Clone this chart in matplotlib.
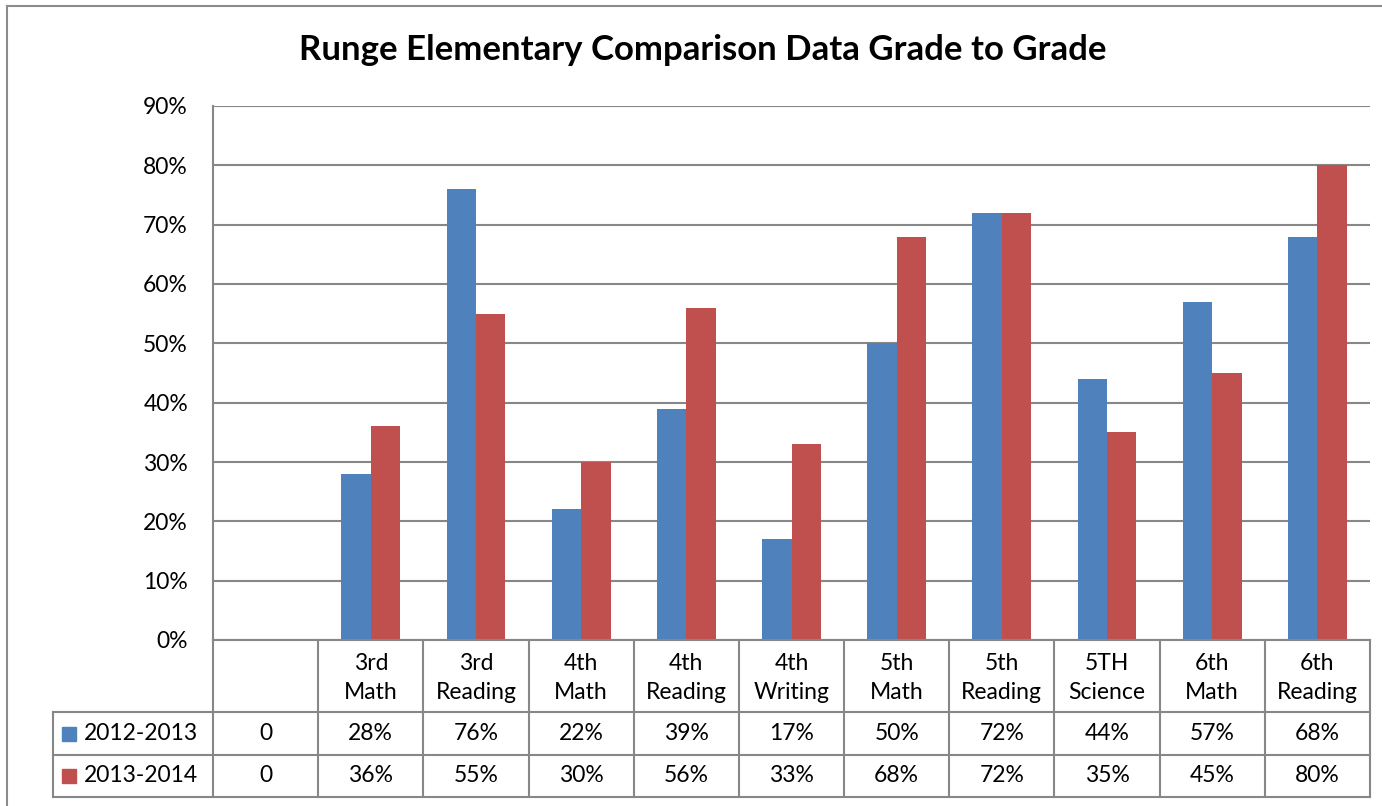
import matplotlib
matplotlib.use("Agg")
import matplotlib.pyplot as plt
from matplotlib.lines import Line2D
from matplotlib.patches import Rectangle

plt.rcParams['font.family'] = ['Lato', 'DejaVu Sans']

title = "Runge Elementary Comparison Data Grade to Grade"
categories = ["", "3rd\nMath", "3rd\nReading", "4th\nMath", "4th\nReading", "4th\nWriting",
              "5th\nMath", "5th\nReading", "5TH\nScience", "6th\nMath", "6th\nReading"]
series_names = ["2012-2013", "2013-2014"]
s2012 = [0, 28, 76, 22, 39, 17, 50, 72, 44, 57, 68]
s2013 = [0, 36, 55, 30, 56, 33, 68, 72, 35, 45, 80]
table_2012 = ["0", "28%", "76%", "22%", "39%", "17%", "50%", "72%", "44%", "57%", "68%"]
table_2013 = ["0", "36%", "55%", "30%", "56%", "33%", "68%", "72%", "35%", "45%", "80%"]
yticks = [0, 10, 20, 30, 40, 50, 60, 70, 80, 90]

BLUE = "#4F81BD"
RED = "#C0504D"
GRID = "#878787"

W, H = 1382, 806
fig = plt.figure(figsize=(W / 100, H / 100), dpi=100)

def fx(px):
    return px / W

def fy(py):
    return 1 - py / H

# outer chart border (partially cropped)
fig.add_artist(Line2D([fx(7), fx(7)], [fy(6), 0], transform=fig.transFigure, color="#8c8c8c", lw=1.5))
fig.add_artist(Line2D([fx(7), 1], [fy(6), fy(6)], transform=fig.transFigure, color="#8c8c8c", lw=1.5))

x0, x1, ytop, ybot = 213, 1370, 106, 640
ax = fig.add_axes([fx(x0), fy(ybot), fx(x1 - x0), (ybot - ytop) / H])

n = len(categories)
xs = list(range(n))
bw = 0.28
ax.bar([x - bw / 2 for x in xs], s2012, width=bw, color=BLUE, zorder=3)
ax.bar([x + bw / 2 for x in xs], s2013, width=bw, color=RED, zorder=3)

ax.set_xlim(-0.5, n - 0.5)
ax.set_ylim(0, 90)
ax.set_yticks(yticks)
ax.set_yticklabels([f"{v}%" for v in yticks], fontsize=16.5)
ax.tick_params(axis="y", length=0, pad=18)
ax.set_xticks([])
for s in ["top", "right", "bottom"]:
    ax.spines[s].set_visible(False)
ax.spines["left"].set_color(GRID)
ax.spines["left"].set_linewidth(1.5)
ax.yaxis.grid(True, color=GRID, lw=1.5, zorder=0)
ax.set_axisbelow(True)

fig.text(fx(703), fy(50), title, ha="center", va="center", fontsize=25, fontweight="bold")

def cat_px(x):
    return x0 + (x + 0.5) / n * (x1 - x0)

r0, r1, r2, r3 = 640, 712, 755, 797
leg_left = 53
lw = 1.5
def hline(xa, xb, y):
    fig.add_artist(Line2D([fx(xa), fx(xb)], [fy(y), fy(y)], transform=fig.transFigure, color=GRID, lw=lw))
def vline(x, ya, yb):
    fig.add_artist(Line2D([fx(x), fx(x)], [fy(ya), fy(yb)], transform=fig.transFigure, color=GRID, lw=lw))

hline(x0, x1, r0)
hline(leg_left, x1, r1)
hline(leg_left, x1, r2)
hline(leg_left, x1, r3)
vline(leg_left, r1, r3)
for i in range(n + 1):
    vline(cat_px(i - 0.5), r0, r3)

fs = 16.5
for i, lab in enumerate(categories):
    cx = cat_px(i)
    fig.text(fx(cx), fy((r0 + r1) / 2 + 2), lab, ha="center", va="center", fontsize=fs, linespacing=1.42)
    fig.text(fx(cx), fy((r1 + r2) / 2), table_2012[i], ha="center", va="center", fontsize=fs)
    fig.text(fx(cx), fy((r2 + r3) / 2), table_2013[i], ha="center", va="center", fontsize=fs)

for (ya, yb), name, col in [((r1, r2), series_names[0], BLUE), ((r2, r3), series_names[1], RED)]:
    cy = (ya + yb) / 2
    fig.add_artist(Rectangle((fx(62), fy(cy + 7)), fx(14), 14 / H, transform=fig.transFigure, color=col))
    fig.text(fx(84), fy(cy), name, ha="left", va="center", fontsize=fs)

fig.savefig("out.png", dpi=100)
